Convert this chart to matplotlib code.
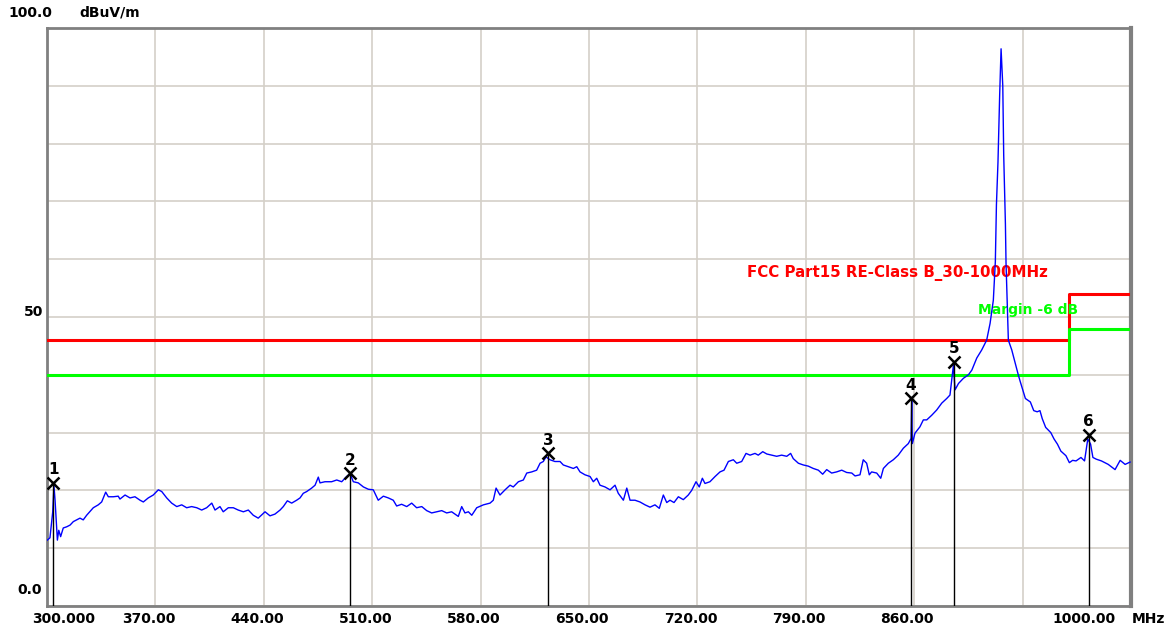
import matplotlib
matplotlib.use("Agg")
from matplotlib import pyplot as plt

# measured trace (MHz, dBuV/m)
freq = [300.2, 301.9, 303.7, 304.5, 305.2, 306.7, 307.6, 308.8, 310.5, 312.7,
        314.9, 317.0, 319.2, 321.3, 323.4, 325.6, 329.9, 333.1, 335.3, 337.9,
        339.6, 342.8, 346.0, 347.1, 350.4, 353.6, 356.8, 360.1, 362.2, 365.4,
        368.6, 371.9, 374.1, 377.3, 380.5, 383.8, 387.0, 390.2, 393.4, 396.7,
        399.9, 403.1, 406.4, 408.5, 411.7, 413.8, 417.1, 420.3, 423.5, 426.8,
        430.0, 433.2, 436.4, 440.8, 444.0, 447.2, 450.5, 452.6, 455.2, 458.0,
        461.2, 463.4, 465.5, 467.7, 470.9, 473.1, 475.2, 476.3, 479.5, 483.8,
        487.1, 490.3, 493.5, 495.7, 497.8, 501.0, 504.3, 507.5, 510.7, 513.9,
        517.2, 520.4, 523.6, 525.8, 529.0, 532.3, 535.5, 538.7, 542.0, 545.2,
        548.4, 551.7, 554.9, 558.1, 561.3, 565.6, 567.8, 569.9, 572.1, 574.3,
        577.5, 581.8, 586.1, 588.2, 590.0, 592.5, 595.8, 599.0, 601.1, 604.4,
        607.6, 609.8, 613.0, 616.2, 618.4, 620.5, 622.2, 624.8, 628.0, 631.3,
        633.4, 636.6, 639.9, 642.1, 644.2, 647.4, 650.7, 652.8, 655.0, 657.1,
        660.3, 663.6, 666.8, 668.9, 672.2, 674.4, 676.5, 679.7, 682.9, 686.2,
        689.4, 692.6, 695.4, 698.0, 700.2, 702.3, 704.9, 707.7, 710.9, 714.1,
        716.3, 719.1, 721.2, 723.2, 724.9, 728.1, 731.4, 734.6, 737.2, 740.0,
        743.2, 745.4, 748.6, 751.4, 754.0, 757.2, 759.3, 762.2, 764.8, 768.0,
        771.2, 774.4, 777.7, 780.2, 781.9, 785.2, 788.4, 791.6, 794.8, 798.1,
        800.9, 803.5, 806.7, 809.9, 813.2, 816.4, 819.7, 821.8, 825.0, 827.1,
        829.3, 831.0, 832.5, 835.8, 838.4, 840.1, 843.3, 846.5, 849.7, 853.0,
        856.2, 858.0, 858.4, 858.8, 860.5, 863.7, 865.9, 868.1, 871.3, 874.5,
        877.8, 881.0, 883.1, 885.3, 886.4, 888.6, 891.8, 895.0, 897.2, 900.4,
        903.6, 906.8, 909.0, 911.1, 912.4, 913.1, 914.1, 915.2, 916.1, 917.2,
        917.8, 918.9, 919.3, 920.8, 923.0, 927.2, 928.5, 931.8, 935.0, 937.2,
        939.4, 941.2, 942.7, 944.9, 948.2, 950.3, 952.5, 954.7, 958.0, 960.2,
        962.3, 964.5, 967.7, 970.0, 972.1, 973.9, 975.4, 977.6, 980.9, 985.3,
        989.7, 993.0, 996.2, 999.4]
level = [11.4, 11.8, 16.3, 20.8, 18.3, 11.4, 13.1, 12.0, 13.5, 13.7,
         14.0, 14.6, 14.9, 15.2, 14.9, 15.7, 17.0, 17.5, 18.0, 19.7,
         18.9, 18.9, 19.0, 18.5, 19.2, 18.7, 18.9, 18.3, 18.0, 18.7,
         19.2, 20.1, 19.8, 18.7, 17.8, 17.2, 17.5, 17.0, 17.2, 17.0,
         16.6, 17.0, 17.8, 16.6, 17.2, 16.3, 17.0, 17.0, 16.6, 16.3,
         16.6, 15.7, 15.2, 16.3, 15.6, 15.9, 16.6, 17.2, 18.2, 17.8,
         18.3, 18.7, 19.5, 19.8, 20.4, 20.9, 22.3, 21.3, 21.5, 21.5,
         21.8, 21.5, 22.4, 22.9, 21.5, 21.3, 20.6, 20.2, 20.1, 18.3,
         19.0, 18.7, 18.3, 17.3, 17.6, 17.2, 17.8, 17.0, 17.2, 16.5,
         16.1, 16.3, 16.5, 16.1, 16.3, 15.5, 17.2, 16.1, 16.3, 15.7,
         17.0, 17.5, 17.8, 18.3, 20.4, 19.2, 20.1, 20.9, 20.6, 21.5,
         21.8, 23.0, 23.2, 23.5, 24.7, 25.0, 25.8, 25.3, 25.0, 25.0,
         24.4, 24.1, 23.8, 24.1, 23.2, 22.7, 22.4, 21.5, 22.1, 20.9,
         20.6, 20.1, 20.9, 19.5, 18.3, 20.4, 18.3, 18.3, 18.0, 17.5,
         17.1, 17.5, 16.9, 19.2, 17.9, 18.3, 17.9, 18.9, 18.4, 19.2,
         20.0, 21.5, 20.6, 22.1, 21.2, 21.5, 22.4, 23.2, 23.5, 25.0,
         25.3, 24.7, 25.0, 26.4, 26.1, 26.4, 26.1, 26.7, 26.3, 26.1,
         25.9, 26.1, 25.9, 26.4, 25.5, 24.7, 24.4, 24.2, 23.8, 23.5,
         22.8, 23.6, 23.0, 23.2, 23.5, 23.1, 23.0, 22.5, 22.7, 25.3,
         24.7, 22.7, 23.2, 23.0, 22.1, 23.8, 24.7, 25.3, 26.1, 27.3,
         28.1, 29.0, 35.6, 28.1, 29.9, 31.0, 32.2, 32.2, 33.0, 33.9,
         35.1, 35.9, 36.5, 41.6, 37.4, 38.5, 39.4, 40.0, 40.8, 42.9,
         44.3, 46.0, 48.9, 52.9, 59.6, 69.4, 76.8, 88.5, 96.4, 90.0,
         78.0, 66.1, 59.3, 46.0, 44.3, 40.0, 38.8, 35.9, 35.3, 33.8,
         33.6, 33.8, 32.4, 30.9, 30.0, 28.9, 28.0, 26.8, 26.0, 24.8,
         25.2, 25.1, 25.7, 25.1, 28.9, 28.0, 25.7, 25.4, 25.1, 24.5,
         23.6, 25.2, 24.5, 24.9]

# FCC Part15 class B limit and -6 dB margin
limit_freq = [300, 960, 960, 998]
limit_level = [46, 46, 54, 54]
margin_level = [40, 40, 48, 48]

# peak markers
mk_no = ["1", "2", "3", "4", "5", "6"]
mk_freq = [304.0, 495.7, 623.7, 857.9, 885.7, 972.6]
mk_level = [21.3, 23.0, 26.4, 35.9, 42.3, 29.6]

xtick_vals = [300, 370, 440, 510, 580, 650, 720, 790, 860, 1000]
xtick_text = ["300.000", "370.00", "440.00", "510.00", "580.00", "650.00",
              "720.00", "790.00", "860.00", "1000.00"]

W, H = 1174, 632
fig = plt.figure(figsize=(W / 100, H / 100), dpi=100)
ax = fig.add_axes([47 / W, 1 - 606 / H, (1131 - 47) / W, (606 - 28) / H])

grid_col = "#d4d0c8"
ax.set_xlim(300, 1000)
ax.set_ylim(0, 100)
ax.set_xticks(range(300, 1001, 70))
ax.set_yticks(range(0, 101, 10))
ax.tick_params(length=0, labelbottom=False, labelleft=False)
ax.grid(True, color=grid_col, lw=1.2)
ax.set_axisbelow(True)
for side in ["left", "bottom", "top"]:
    ax.spines[side].set_color("#808080")
    ax.spines[side].set_linewidth(2)
ax.spines["right"].set_color("#808080")
ax.spines["right"].set_linewidth(3)

ax.plot(limit_freq, limit_level, color="#ff0000", lw=2.2, zorder=3)
ax.plot(limit_freq, margin_level, color="#00ff00", lw=2.2, zorder=3)
ax.plot(freq, level, color="#0000ff", lw=1.0, zorder=4)

ax.vlines(mk_freq, 0, mk_level, color="black", lw=1.0, zorder=5)
ax.plot(mk_freq, mk_level, "x", color="black", ms=9, mew=1.8, zorder=6)
for n, f, v in zip(mk_no, mk_freq, mk_level):
    ax.annotate(n, (f, v), xytext=(0, 13), textcoords="offset pixels",
                ha="center", va="center", fontsize=11, fontweight="bold",
                color="black", zorder=6)

bold = dict(fontweight="bold", fontsize=10, family="DejaVu Sans")
ax.text(752, 57.6, "FCC Part15 RE-Class B_30-1000MHz", color="#ff0000",
        ha="left", va="center", fontweight="bold", fontsize=10.8)
ax.text(901.2, 51.2, "Margin -6 dB", color="#00ff00", ha="left", va="center", **bold)

# x labels, first and last nudged inward like the analyzer software does
for i, (v, t) in enumerate(zip(xtick_vals, xtick_text)):
    dx = -7
    if i == 0:
        dx = 17
    elif i == len(xtick_vals) - 1:
        dx = -47
    ax.annotate(t, (v, 0), xycoords=("data", "axes fraction"), xytext=(dx, -13),
                textcoords="offset pixels", ha="center", va="center", **bold)
ax.annotate("MHz", (1, 0), xycoords="axes fraction", xytext=(17, -13),
            textcoords="offset pixels", ha="center", va="center", **bold)

ax.annotate("100.0", (0, 1), xycoords="axes fraction", xytext=(-17, 15),
            textcoords="offset pixels", ha="center", va="center", **bold)
ax.annotate("dBuV/m", (0, 1), xycoords="axes fraction", xytext=(63, 15),
            textcoords="offset pixels", ha="center", va="center", **bold)
ax.annotate("50", (0, 50), xycoords=("axes fraction", "data"), xytext=(-4, 5),
            textcoords="offset pixels", ha="right", va="center", **bold)
ax.annotate("0.0", (0, 0), xycoords="axes fraction", xytext=(-5, 16),
            textcoords="offset pixels", ha="right", va="center", **bold)

fig.savefig("out.png", dpi=100)
